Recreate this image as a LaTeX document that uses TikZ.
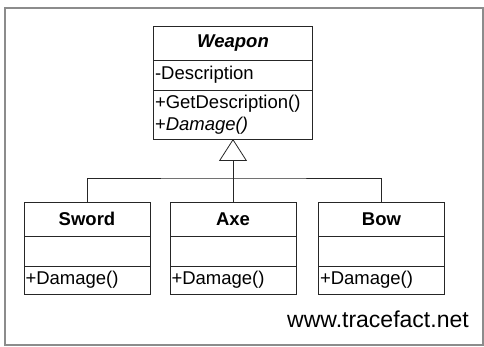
\documentclass[tikz,border=0pt]{standalone}
\usepackage{fontspec}
\setmainfont{Liberation Sans}
\usetikzlibrary{positioning,arrows.meta}
\newcommand{\umlfont}{\fontsize{18.5}{22.5}\selectfont}
\tikzset{%
	uml/.style={
		draw=black!85,
		line width=0.8pt,
		fill=white,
		inner sep=0pt,
		outer sep=0pt,
		font=\umlfont
	},
	uml-title/.style={ uml, minimum width=#1, minimum height=34pt, font=\umlfont\bfseries },
	uml-members/.style={ uml, text width=#1, inner xsep=1.5pt, align=left },
	link/.style={ draw=black!85, line width=0.8pt },
	inherit/.style={ link, -{Triangle[open, length=22pt, width=28pt]} },
}

\begin{document}
\begin{tikzpicture}[x=1pt, y=-1pt]
\useasboundingbox (0,0) rectangle (484,347);
% frame
\draw[black!45, line width=1.2pt] (5,8) rectangle (483,345);

% base class
\node[uml-title=159pt] (weapon-title) at (233,43) {\textit{Weapon}};
\node[uml-members=156pt, minimum height=30pt, below=0pt of weapon-title] (weapon-attr) {-Description};
\node[uml-members=156pt, minimum height=49pt, below=0pt of weapon-attr] (weapon-ops) {+GetDescription()\\+\textit{Damage()}};

% derived classes
\foreach \name/\label/\x in {sword/Sword/87, axe/Axe/233, bow/Bow/381.5} {
	\node[uml-title=126pt] (\name-title) at (\x,219) {\label};
	\node[uml-members=123pt, minimum height=30pt, below=0pt of \name-title] (\name-attr) {};
	\node[uml-members=123pt, minimum height=28pt, below=0pt of \name-attr] (\name-ops) {+Damage()};
}

% generalization
\coordinate (fork) at (233,178);
\draw[inherit] (axe-title.north) -- (weapon-ops.south);
\draw[link] (sword-title.north) |- (fork) -| (bow-title.north);

% site
\node[anchor=base west, inner sep=0pt, font=\fontsize{23}{27}\selectfont] (site) at (287,327) {www.tracefact.net};
\end{tikzpicture}
\end{document}
